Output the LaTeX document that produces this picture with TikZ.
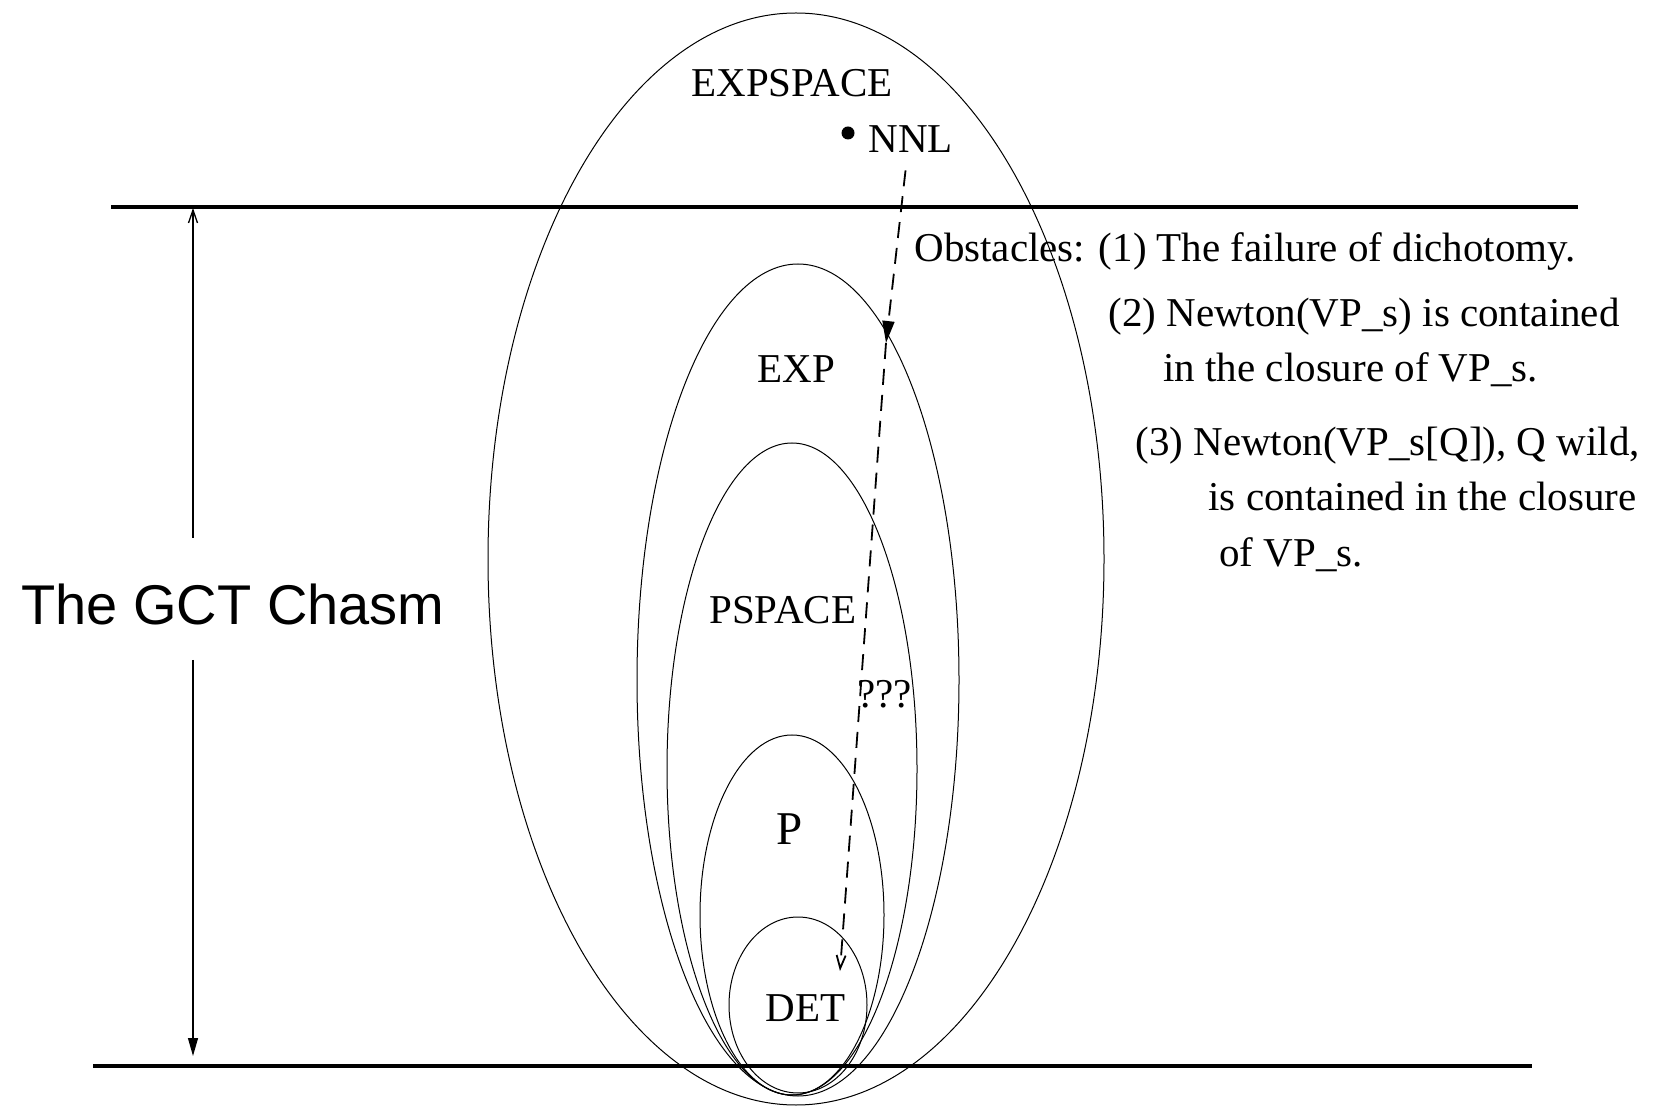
\documentclass[tikz,border=0pt]{standalone}
\usepackage{fontspec}
\setmainfont{Liberation Serif}
\setsansfont{Liberation Sans}
\usetikzlibrary{shapes.geometric, arrows.meta, positioning, calc}

\begin{document}
\begin{tikzpicture}[
    x=0.5pt, y=-0.5pt,
    classset/.style={ellipse, draw, line width=0.5pt, inner sep=0pt},
    lbl/.style={font=\fontsize{20.5}{24}\selectfont, inner sep=0pt, anchor=base west},
    chasmline/.style={line width=1.7pt},
    dasharrow/.style={dash pattern=on 8pt off 5pt, line width=0.9pt},
    solidhead/.style={-{Triangle[length=9pt, width=5pt]}},
    bighead/.style={-{Triangle[length=11pt, width=6pt]}},
    openhead/.style={-{Straight Barb[length=6.5pt, width=4.5pt]}}
]
\useasboundingbox (0,0) rectangle (1655,1106);

% Complexity classes
\node[classset, minimum width=308pt, minimum height=546pt] (expspace) at (796,559) {};
\node[classset, minimum width=161pt, minimum height=416pt] (exp) at (798,680) {};
\node[classset, minimum width=125pt, minimum height=326pt] (pspace) at (792,769) {};
\node[classset, minimum width=92pt, minimum height=180pt] (pclass) at (792,915) {};
\node[classset, minimum width=69pt, minimum height=88pt] (det) at (798,1005) {};

% Class labels
\node[lbl] (expspacelbl) at (691,97) {EXPSPACE};
\node[lbl] (explbl) at (757,383) {EXP};
\node[lbl] (pspacelbl) at (709,624) {PSPACE};
\node[lbl, font=\fontsize{23.5}{28}\selectfont] (plbl) at (776,844) {P};
\node[lbl] (detlbl) at (765,1021) {DET};
\node[lbl] (unknown) at (857,707) {???};

% NNL
\node[circle, fill, inner sep=0pt, minimum size=6.5pt] (nnldot) at (848,133) {};
\node[lbl] (nnl) at (868,153) {NNL};

% Obstacles
\node[lbl] (obs1) at (914,262) {Obstacles: (1) The failure of dichotomy.};
\node[lbl] (obs2) at (1108,327) {(2) Newton(VP\_s) is contained};
\node[lbl] (obs2b) at (1163,382) {in the closure of VP\_s.};
\node[lbl] (obs3) at (1135,456) {(3) Newton(VP\_s[Q]), Q wild,};
\node[lbl] (obs3b) at (1208,511) {is contained in the closure};
\node[lbl] (obs3c) at (1219,567) {of VP\_s.};

% Chasm
\coordinate (topL) at (111,207);
\coordinate (topR) at (1578,207);
\coordinate (botL) at (93,1066);
\coordinate (botR) at (1532,1066);
\draw[chasmline] (topL) -- (topR);
\draw[chasmline] (botL) -- (botR);

\node[lbl, font=\sffamily\fontsize{28}{32}\selectfont] (chasm) at (21,625) {The GCT Chasm};
\coordinate (gapA) at (193,538);
\coordinate (gapB) at (193,660);
\coordinate (chasmtop) at (193,208);
\coordinate (chasmbot) at (193,1056);
\draw[openhead, line width=0.65pt] (gapA) -- (chasmtop);
\draw[solidhead, line width=0.65pt] (gapB) -- (chasmbot);

% Path from NNL down to DET
\coordinate (expentry) at (886,343);
\coordinate (detentry) at (840,971);
\draw[dasharrow, bighead] ([shift={(-2.5pt,-8.5pt)}]nnl.south) -- (expentry);
\draw[dasharrow, openhead] (expentry) -- (detentry);

\end{tikzpicture}
\end{document}
